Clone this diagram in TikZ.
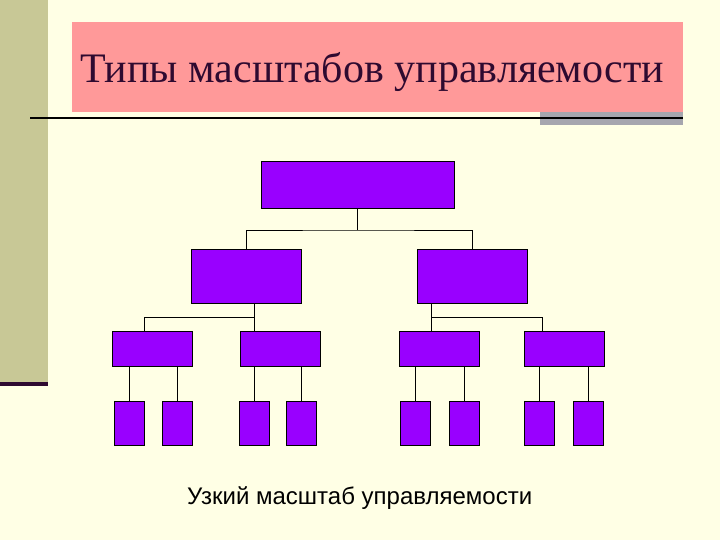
\documentclass[tikz,border=0pt]{standalone}
\usepackage{fontspec}
\setmainfont{Liberation Serif}
\newfontfamily\captionfont{Liberation Sans}
\usepackage{tikz}
\definecolor{slidebg}{HTML}{FFFFE5}
\definecolor{sidebar}{HTML}{C8C896}
\definecolor{titlepink}{HTML}{FF9999}
\definecolor{titleink}{HTML}{2E0A30}
\definecolor{shadegray}{HTML}{A6A6AE}
\definecolor{boxviolet}{HTML}{9900FF}
\tikzset{
  orgbox/.style={draw=black, line width=0.8pt, fill=boxviolet, inner sep=0pt},
  topbox/.style={orgbox, minimum width=193pt, minimum height=47pt},
  midbox/.style={orgbox, minimum width=110pt, minimum height=54pt},
  lowbox/.style={orgbox, minimum width=80pt, minimum height=35pt},
  leafbox/.style={orgbox, minimum width=30pt, minimum height=44pt},
  link/.style={draw=black, line width=0.8pt}
}

\begin{document}
\begin{tikzpicture}[x=1pt, y=-1pt]
		\useasboundingbox (0,0) rectangle (720,540);
		\fill[slidebg] (0,0) rectangle (720,540);

		% Side bar and title block
		\fill[sidebar] (0,0) rectangle (48,382);
		\fill[titleink] (0,382) rectangle (48,385.5);
		\fill[titlepink] (72,22) rectangle (683,112);
		\fill[shadegray] (540,112) rectangle (683,125);
		\draw[line width=2pt, black] (30,118) -- (683,118);
		\node[anchor=base west, inner sep=0pt, text=titleink, font=\fontsize{42}{46}\selectfont] (title) at (80,83) {Типы масштабов управляемости};

		% Boxes of the chart
		\node[topbox] (top) at (357.5,184.5) {};
		\node[midbox] (midL) at (246.5,276) {};
		\node[midbox] (midR) at (472.5,276) {};
		\node[lowbox] (lowA) at (152,348.5) {};
		\node[lowbox] (lowB) at (280,348.5) {};
		\node[lowbox] (lowC) at (439.5,348.5) {};
		\node[lowbox] (lowD) at (564,348.5) {};
		\node[leafbox] (leafA) at (129,423) {};
		\node[leafbox] (leafB) at (177.5,423) {};
		\node[leafbox] (leafC) at (254.5,423) {};
		\node[leafbox] (leafD) at (301.5,423) {};
		\node[leafbox] (leafE) at (415,423) {};
		\node[leafbox] (leafF) at (464,423) {};
		\node[leafbox] (leafG) at (539,423) {};
		\node[leafbox] (leafH) at (588.5,423) {};

		% Connectors
		\coordinate (busTop) at (357.5,230);
		\coordinate (busL) at (254,317);
		\coordinate (busR) at (431,317);
		\draw[link] (top.south) -- (busTop);
		\draw[link] (midL.north) |- (busTop) -| (midR.north);
		\draw[link] ([xshift=7.5pt]midL.south) -- ([xshift=-26pt]lowB.north);
		\draw[link] ([xshift=-8pt]lowA.north) |- (busL);
		\draw[link] ([xshift=-41.5pt]midR.south) -- ([xshift=-8.5pt]lowC.north);
		\draw[link] ([xshift=-22pt]lowD.north) |- (busR);
		\foreach \leaf/\parent in {leafA/lowA, leafB/lowA, leafC/lowB, leafD/lowB,
		                           leafE/lowC, leafF/lowC, leafG/lowD, leafH/lowD}
			\draw[link] (\leaf.north) -- (\leaf.north |- \parent.south);

		% Caption
		\node[anchor=base west, inner sep=0pt, font=\captionfont\fontsize{24}{28}\selectfont] (caption) at (187,504) {Узкий масштаб управляемости};
	\end{tikzpicture}
\end{document}
